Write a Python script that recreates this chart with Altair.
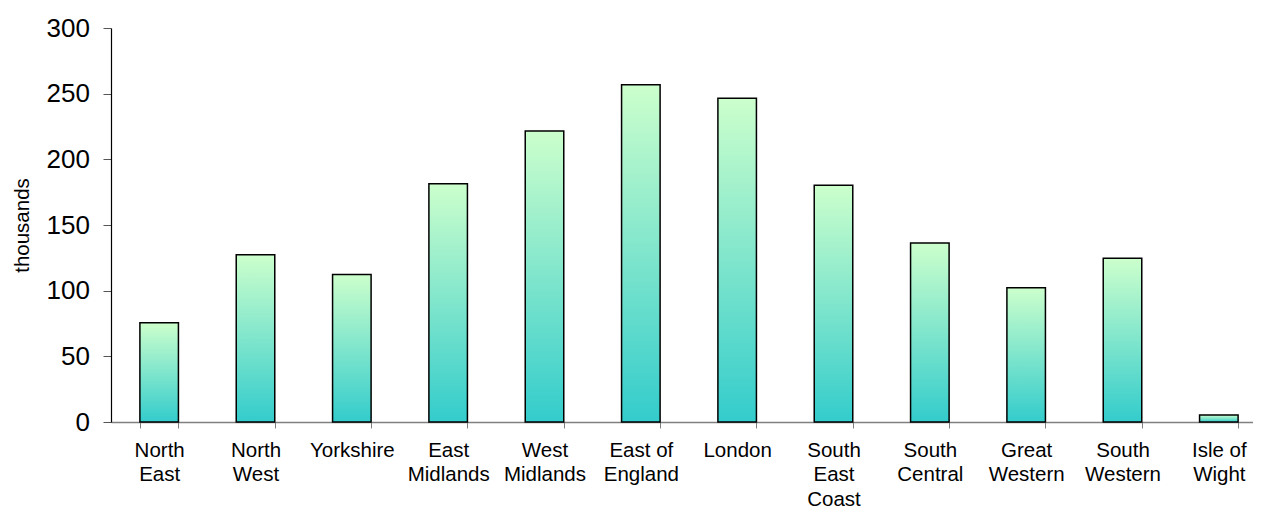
import altair as alt
import pandas as pd

CATEGORIES = ["North\nEast", "North\nWest", "Yorkshire", "East\nMidlands", "West\nMidlands",
              "East of\nEngland", "London", "South\nEast\nCoast", "South\nCentral",
              "Great\nWestern", "South\nWestern", "Isle of\nWight"]
VALUES = [75.5, 127.4, 112.4, 181.5, 221.6, 256.7, 246.5, 180.2, 136.3, 102.3, 124.6, 5.3]
Y_TICKS = [0, 50, 100, 150, 200, 250, 300]
Y_TITLE = "thousands"

df = pd.DataFrame({"region": CATEGORIES, "value": VALUES})

FONT = "Liberation Sans, Arial, sans-serif"

gradient = alt.LinearGradient(
    gradient="linear",
    stops=[alt.GradientStop(color="#ccffcc", offset=0),
           alt.GradientStop(color="#33cccc", offset=1)],
    x1=0, x2=0, y1=0, y2=1,
)

chart = alt.Chart(df).mark_bar(
    color=gradient, stroke="#000000", strokeWidth=1.5
).encode(
    x=alt.X("region:N", sort=CATEGORIES, title=None,
            scale=alt.Scale(paddingInner=0.6, paddingOuter=0.3),
            axis=alt.Axis(labelAngle=0, labelExpr="split(datum.label, '\\n')",
                          labelFont=FONT, labelFontSize=20.5, labelLineHeight=24.5,
                          labelColor="#000000", labelPadding=12, labelOverlap=False,
                          labelLimit=300, tickSize=6, tickBand="extent",
                          tickColor="#808080", domainColor="#808080", domainWidth=1.5)),
    y=alt.Y("value:Q", title=Y_TITLE,
            scale=alt.Scale(domain=[0, 300], nice=False),
            axis=alt.Axis(values=Y_TICKS, grid=False, labelFont=FONT, labelFontSize=26,
                          labelColor="#000000", labelPadding=13.5, tickSize=8,
                          tickColor="#555555", domainColor="#000000", domainWidth=1.2,
                          titleFont=FONT, titleFontSize=20.5, titleFontWeight="normal",
                          titleColor="#000000", titleAngle=270, titleX=-83, titleY=197,
                          titleBaseline="alphabetic", titleAlign="center")),
).properties(
    width=1156, height=394,
    autosize=alt.AutoSizeParams(type="none"),
    padding={"left": 103, "top": 20, "right": -14, "bottom": 86},
).configure_view(strokeWidth=0)

chart.save("out.html", embed_options={"renderer": "svg", "actions": False})
